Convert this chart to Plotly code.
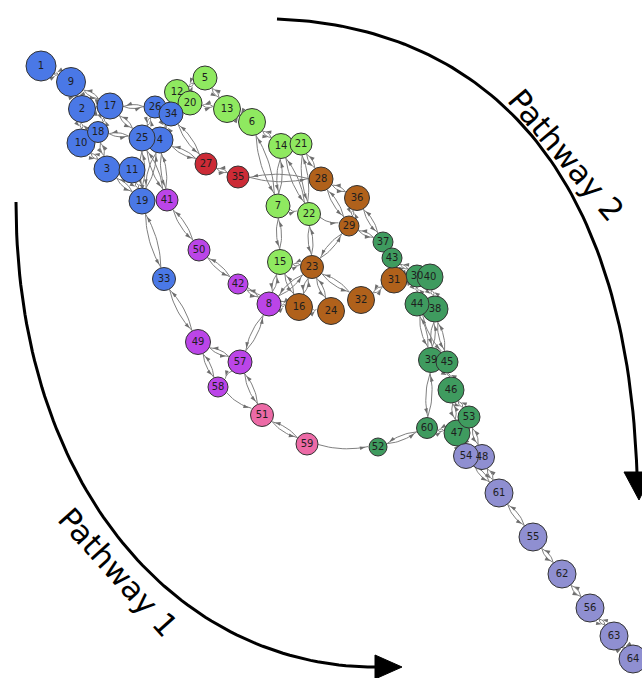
import math
import plotly.graph_objects as go

# ---- network nodes: id, position (px), radius (px), community ----
node_ids = [1, 2, 3, 4, 5, 6, 7, 8, 9, 10, 11, 12, 13, 14, 15, 16, 17, 18, 19, 20,
            21, 22, 23, 24, 25, 26, 27, 28, 29, 30, 31, 32, 33, 34, 35, 36, 37, 38, 39, 40,
            41, 42, 43, 44, 45, 46, 47, 48, 49, 50, 51, 52, 53, 54, 55, 56, 57, 58, 59, 60,
            61, 62, 63, 64]
node_x = [41, 82, 107, 160, 205, 252, 278, 269, 71, 81, 132, 177, 227, 281, 280, 299, 110, 98, 142, 190,
          301, 309, 312, 331, 142, 155, 206, 321, 349, 417, 394, 361, 164, 171, 238, 357, 383, 435, 431, 430,
          167, 238, 392, 417, 447, 451, 457, 482, 198, 199, 262, 378, 469, 466, 533, 590, 240, 218, 307, 427,
          499, 562, 614, 633]
node_y = [66, 109, 169, 140, 78, 122, 206, 304, 82, 143, 170, 92, 109, 146, 262, 307, 106, 132, 201, 103,
          144, 214, 267, 311, 138, 107, 164, 179, 226, 276, 280, 300, 279, 114, 177, 198, 242, 309, 360, 277,
          200, 284, 258, 304, 362, 390, 433, 457, 342, 250, 415, 447, 417, 456, 537, 608, 362, 387, 444, 428,
          493, 574, 636, 659]
node_r = [15, 13.5, 13, 13, 12, 13.5, 12, 12, 14.5, 14, 13, 12.5, 13.5, 12.5, 12.5, 13.5, 13, 10.5, 13, 12,
          11, 11.5, 11.5, 13.5, 13, 11, 11, 12, 10, 11, 13, 13.5, 11.5, 12, 11, 12.5, 10, 13, 12.5, 13,
          11, 10, 10, 12, 11, 13, 13, 12.5, 12.5, 11, 11.5, 9, 11, 12.5, 14, 14, 12, 10, 11, 10.5,
          14, 14, 14, 14]
node_group = ["A", "A", "A", "A", "B", "B", "B", "D", "A", "A", "A", "B", "B", "B", "B", "E", "A", "A", "A", "B",
              "B", "B", "E", "E", "A", "A", "C", "E", "E", "F", "E", "E", "A", "A", "C", "E", "F", "F", "F", "F",
              "D", "D", "F", "F", "F", "F", "F", "H", "D", "D", "G", "F", "F", "H", "H", "H", "D", "D", "G", "F",
              "H", "H", "H", "H"]
group_colors = {"A": "#4a78e6", "B": "#8fe960", "C": "#cc2b36", "D": "#bb45e8",
                "E": "#b0611b", "F": "#3f9b5f", "G": "#ec6aa6", "H": "#8f8fd1"}

# ---- transitions (both directions drawn) ----
edges_pair = [(1, 9), (9, 2), (9, 17), (2, 10), (2, 17), (17, 18), (17, 26), (17, 25), (18, 10), (18, 25),
              (18, 3), (10, 3), (3, 19), (11, 19), (25, 19), (4, 19), (25, 41), (4, 41), (26, 25), (34, 4),
              (34, 27), (4, 27), (34, 12), (12, 5), (5, 13), (20, 13), (13, 6), (6, 14), (6, 7), (14, 7),
              (14, 21), (14, 22), (21, 22), (21, 28), (7, 15), (22, 23), (15, 23), (15, 8), (15, 16), (27, 35),
              (35, 28), (28, 36), (28, 29), (36, 29), (36, 37), (29, 37), (29, 23), (23, 16), (23, 24), (23, 32),
              (23, 8), (16, 8), (32, 31), (31, 30), (43, 30), (37, 43), (30, 44), (40, 38), (44, 39), (38, 39),
              (38, 45), (39, 60), (45, 46), (46, 53), (46, 47), (53, 47), (47, 60), (60, 52), (53, 48), (47, 54),
              (54, 61), (48, 61), (61, 55), (55, 62), (62, 56), (56, 63), (63, 64), (19, 33), (41, 50), (50, 42),
              (42, 8), (8, 57), (33, 49), (49, 57), (49, 58), (57, 51), (51, 59)]
# ---- one-way transitions ----
edges_single = [(58, 51), (59, 52), (22, 29), (7, 22), (57, 58), (42, 16), (16, 24), (44, 45)]

# ---- pathway arrows (cubic Bezier control points, px) ----
pathway2_ctrl = [(277, 19), (450, 25), (625, 130), (637, 473)]
pathway2_head = [(624, 472), (653, 472), (639, 500)]
pathway1_ctrl = [(16, 202), (16, 490), (180, 667), (375, 667)]
pathway1_head = [(375, 655), (375, 679), (402, 667)]

W, H = 642, 678
pos = {n: (x, y) for n, x, y in zip(node_ids, node_x, node_y)}
rad = {n: r for n, r in zip(node_ids, node_r)}


def curved_edge(u, v, bend=0.09, steps=14):
    (x0, y0), (x1, y1) = pos[u], pos[v]
    dx, dy = x1 - x0, y1 - y0
    L = math.hypot(dx, dy)
    ux, uy = dx / L, dy / L
    sx, sy = x0 + ux * rad[u], y0 + uy * rad[u]
    ex, ey = x1 - ux * (rad[v] + 1), y1 - uy * (rad[v] + 1)
    mx, my = (sx + ex) / 2, (sy + ey) / 2
    cx, cy = mx - uy * bend * L, my + ux * bend * L
    xs, ys = [], []
    for i in range(steps + 1):
        t = i / steps
        xs.append((1 - t) ** 2 * sx + 2 * (1 - t) * t * cx + t * t * ex)
        ys.append((1 - t) ** 2 * sy + 2 * (1 - t) * t * cy + t * t * ey)
    tx, ty = ex - cx, ey - cy
    tl = math.hypot(tx, ty)
    ang = math.degrees(math.atan2(tx, -ty))
    head = (ex - tx / tl * 2.5, ey - ty / tl * 2.5, ang)
    return xs, ys, head


def bezier(ctrl, steps=80):
    (x0, y0), (x1, y1), (x2, y2), (x3, y3) = ctrl
    xs, ys = [], []
    for i in range(steps + 1):
        t = i / steps
        a, b, c, d = (1 - t) ** 3, 3 * (1 - t) ** 2 * t, 3 * (1 - t) * t * t, t ** 3
        xs.append(a * x0 + b * x1 + c * x2 + d * x3)
        ys.append(a * y0 + b * y1 + c * y2 + d * y3)
    return xs, ys


directed = []
for u, v in edges_pair:
    directed += [(u, v), (v, u)]
directed += edges_single

ex_all, ey_all, hx, hy, ha = [], [], [], [], []
for u, v in directed:
    xs, ys, (px, py, a) = curved_edge(u, v)
    ex_all += xs + [None]
    ey_all += ys + [None]
    hx.append(px)
    hy.append(py)
    ha.append(a)

fig = go.Figure()

# pathway arcs
for ctrl, head in [(pathway2_ctrl, pathway2_head), (pathway1_ctrl, pathway1_head)]:
    bx, by = bezier(ctrl)
    fig.add_trace(go.Scatter(x=bx, y=by, mode="lines", line=dict(color="black", width=3),
                             hoverinfo="skip", showlegend=False))
    fig.add_trace(go.Scatter(x=[p[0] for p in head] + [head[0][0]], y=[p[1] for p in head] + [head[0][1]],
                             mode="lines", fill="toself", fillcolor="black", line=dict(color="black", width=1),
                             hoverinfo="skip", showlegend=False))

# edges
fig.add_trace(go.Scatter(x=ex_all, y=ey_all, mode="lines", line=dict(color="#7f7f7f", width=1),
                         hoverinfo="skip", showlegend=False))
fig.add_trace(go.Scatter(x=hx, y=hy, mode="markers",
                         marker=dict(symbol="arrow", size=6, angle=ha, color="#6f6f6f",
                                     line=dict(width=0)),
                         hoverinfo="skip", showlegend=False))

# nodes, drawn in id order
fig.add_trace(go.Scatter(
    x=node_x, y=node_y, mode="markers+text",
    text=[str(n) for n in node_ids], textposition="middle center",
    textfont=dict(family="DejaVu Sans", size=10, color="#1e1e1e"),
    marker=dict(size=[2 * r for r in node_r], color=[group_colors[g] for g in node_group],
                line=dict(color="#333333", width=1), opacity=1),
    hoverinfo="text", showlegend=False))

fig.add_annotation(x=566, y=155, text="Pathway 2", showarrow=False, textangle=50,
                   font=dict(family="DejaVu Sans", size=31, color="black"))
fig.add_annotation(x=118, y=572, text="Pathway 1", showarrow=False, textangle=48,
                   font=dict(family="DejaVu Sans", size=31, color="black"))

fig.update_layout(width=W, height=H, margin=dict(l=0, r=0, t=0, b=0),
                  paper_bgcolor="white", plot_bgcolor="white",
                  xaxis=dict(range=[0, W], visible=False, fixedrange=True),
                  yaxis=dict(range=[H, 0], visible=False, fixedrange=True))

fig.write_html("out.html", config={"displayModeBar": False})
